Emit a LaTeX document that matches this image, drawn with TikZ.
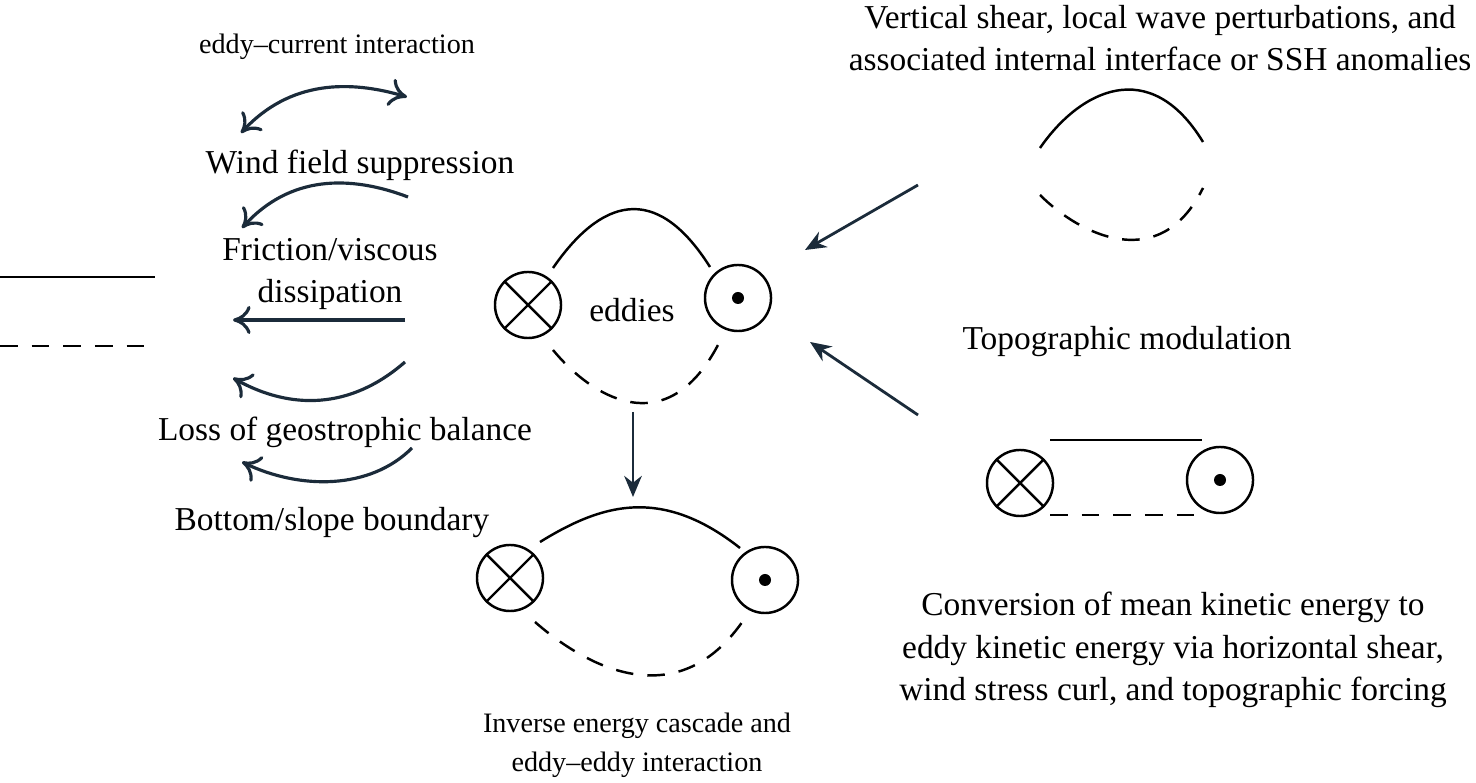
\documentclass[tikz,border=0pt]{standalone}
\usepackage{fontspec}
\setmainfont{Liberation Serif}
\usetikzlibrary{arrows.meta}
\definecolor{ink}{HTML}{1B2B3A}
\begin{document}
\begin{tikzpicture}[x=0.01cm,y=-0.01cm,
        txt/.style={font=\fontsize{9.5pt}{12pt}\selectfont, align=center, inner sep=0pt},
        small/.style={font=\fontsize{8pt}{11pt}\selectfont, align=center, inner sep=0pt},
        into/.style={circle, draw, line width=0.7pt, minimum size=0.66cm, inner sep=0pt},
        outof/.style={circle, draw, line width=0.7pt, minimum size=0.66cm, inner sep=0pt},
        flow/.style={ink, line width=0.8pt, -{Stealth[length=6pt,width=5pt]}},
        swing/.style={ink, line width=0.9pt},
        open/.style={{To[length=5pt,width=8pt]}},
        arc/.style={line width=0.7pt},
        arcd/.style={line width=0.7pt, dash pattern=on 5pt off 4pt},
    ]
        \useasboundingbox (0,0) rectangle (1476,783);

        % Left: level lines
        \coordinate (ls1) at (0,277); \coordinate (le1) at (155,277);
        \coordinate (ls2) at (0,346); \coordinate (le2) at (155,346);
        \draw[arc] (ls1) -- (le1);
        \draw[arcd] (ls2) -- (le2);

        % Left: processes
        \node[small] (interact) at (337,47) {eddy--current interaction};
        \node[txt] (wind) at (360,165) {Wind field suppression};
        \node[txt] (fric) at (330,274) {Friction/viscous\\dissipation};
        \node[txt] (loss) at (345,432) {Loss of geostrophic balance};
        \node[txt] (bottom) at (332,523) {Bottom/slope boundary};

        \coordinate (a1) at (241,133); \coordinate (b1) at (407,97);
        \coordinate (a2) at (408,197); \coordinate (b2) at (242,228);
        \coordinate (a3) at (405,320); \coordinate (b3) at (233,320);
        \coordinate (a4) at (405,362); \coordinate (b4) at (233,378);
        \coordinate (a5) at (412,448); \coordinate (b5) at (242,462);
        \draw[swing, {To[length=5pt,width=8pt]}-{To[length=5pt,width=8pt]}] (a1) .. controls (290,80) and (350,80) .. (b1);
        \draw[swing, -{To[length=5pt,width=8pt]}] (a2) .. controls (350,175) and (290,175) .. (b2);
        \draw[swing, -{To[length=5pt,width=8pt]}] (a3) -- (b3);
        \draw[swing, -{To[length=5pt,width=8pt]}] (a4) .. controls (350,410) and (290,410) .. (b4);
        \draw[swing, -{To[length=5pt,width=8pt]}] (a5) .. controls (370,490) and (300,490) .. (b5);

        % Centre eddies
        \node[into] (cx) at (528,305) {};
        \draw[line width=0.7pt] (cx.north east) -- (cx.south west) (cx.north west) -- (cx.south east);
        \node[outof] (cd) at (738,298) {};
        \fill (cd.center) circle (0.06cm);
        \node[txt] (eddies) at (632,310) {eddies};
        \coordinate (s1) at (553,268); \coordinate (e1) at (710,267);
        \coordinate (s2) at (553,350); \coordinate (e2) at (718,345);
        \draw[arc] (s1) .. controls (600,200) and (655,180) .. (e1);
        \draw[arcd] (s2) .. controls (590,395) and (665,445) .. (e2);

        \coordinate (dn1) at (633,412); \coordinate (dn2) at (633,497);
        \draw[flow] (dn1) -- (dn2);

        % Lower eddies
        \node[into] (lx) at (510,578) {};
        \draw[line width=0.7pt] (lx.north east) -- (lx.south west) (lx.north west) -- (lx.south east);
        \node[outof] (ld) at (765,580) {};
        \fill (ld.center) circle (0.06cm);
        \coordinate (s3) at (540,542); \coordinate (e3) at (740,548);
        \coordinate (s4) at (535,622); \coordinate (e4) at (745,618);
        \draw[arc] (s3) .. controls (600,505) and (660,485) .. (e3);
        \draw[arcd] (s4) .. controls (590,670) and (680,715) .. (e4);
        \node[small] (inverse) at (637,745) {Inverse energy cascade and\\eddy--eddy interaction};

        % Right top: vertical shear
        \node[txt] (shear) at (1160,38) {Vertical shear, local wave perturbations, and\\associated internal interface or SSH anomalies};
        \coordinate (s5) at (1040,148); \coordinate (e5) at (1203,142);
        \coordinate (s6) at (1040,195); \coordinate (e6) at (1203,188);
        \draw[arc] (s5) .. controls (1080,90) and (1150,55) .. (e5);
        \draw[arcd] (s6) .. controls (1080,235) and (1160,275) .. (e6);
        \coordinate (r1) at (918,185); \coordinate (q1) at (805,250);
        \draw[flow] (r1) -- (q1);

        \node[txt] (topo) at (1127,342) {Topographic modulation};
        \coordinate (r2) at (918,415); \coordinate (q2) at (810,342);
        \draw[flow] (r2) -- (q2);

        % Right bottom: mean flow
        \node[into] (rx) at (1020,483) {};
        \draw[line width=0.7pt] (rx.north east) -- (rx.south west) (rx.north west) -- (rx.south east);
        \node[outof] (rd) at (1220,480) {};
        \fill (rd.center) circle (0.06cm);
        \coordinate (s7) at (1050,440); \coordinate (e7) at (1202,440);
        \coordinate (s8) at (1050,515); \coordinate (e8) at (1202,515);
        \draw[arc] (s7) -- (e7);
        \draw[arcd] (s8) -- (e8);
        \node[txt] (conv) at (1173,650) {Conversion of mean kinetic energy to\\eddy kinetic energy via horizontal shear,\\wind stress curl, and topographic forcing};
    \end{tikzpicture}
\end{document}
